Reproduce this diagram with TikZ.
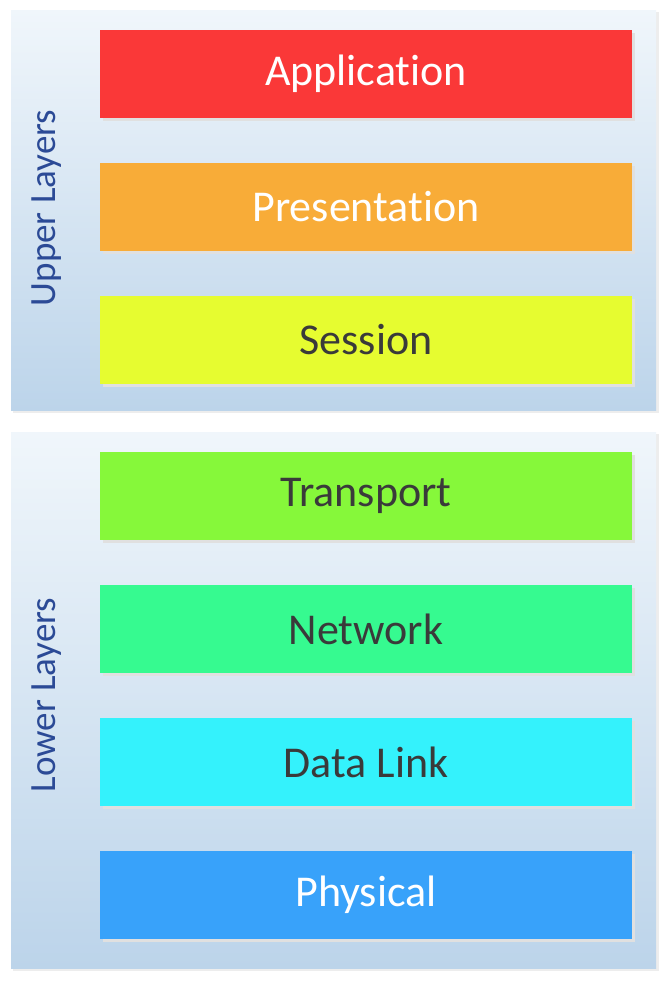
\documentclass[tikz,border=0pt]{standalone}
\usepackage{fontspec}
\setmainfont[Ligatures=NoCommon]{Carlito}
\usetikzlibrary{positioning}
\definecolor{panelTop}{HTML}{F0F6FB}
\definecolor{panelBot}{HTML}{BCD4EA}
\definecolor{sideText}{HTML}{2B4A96}
\definecolor{darkText}{HTML}{3A3A3A}
\definecolor{cApp}{HTML}{FA3838}
\definecolor{cPres}{HTML}{F8AC38}
\definecolor{cSess}{HTML}{E6FC30}
\definecolor{cTrans}{HTML}{86F83A}
\definecolor{cNet}{HTML}{36FA90}
\definecolor{cData}{HTML}{34F2FC}
\definecolor{cPhys}{HTML}{38A2FA}
\tikzset{
  panel/.style={top color=panelTop, bottom color=panelBot, draw=none},
  panelshadow/.style={fill=black!7, draw=none},
  layerbox/.style={draw=none, minimum width=532pt, minimum height=88pt, inner sep=0pt,
    font=\fontsize{44}{48}\selectfont},
  boxshadow/.style={fill=black!12, draw=none},
  sidelabel/.style={text=sideText, font=\fontsize{37}{40}\selectfont, rotate=90, inner sep=0pt}
}
\begin{document}
\begin{tikzpicture}[x=1pt,y=-1pt]
\useasboundingbox (0,0) rectangle (670,983);
\fill[white] (0,0) rectangle (670,983);
% panels
\fill[panelshadow] (13,12) rectangle (659,413);
\fill[panel] (11,10) rectangle (656,410);
\fill[panelshadow] (13,434) rectangle (659,971);
\fill[panel] (11,432) rectangle (656,968);
% box shadows
\foreach \y in {74,207,340,496,629,762,895} {
  \fill[boxshadow] (103,\y-41) rectangle (635,\y+47);
}
\node[layerbox, fill=cApp, text=white] (app) at (366,74) {Application};
\node[layerbox, fill=cPres, text=white] (pres) at (366,207) {Presentation};
\node[layerbox, fill=cSess, text=darkText] (sess) at (366,340) {Session};
\node[layerbox, fill=cTrans, text=darkText] (trans) at (366,496) {Transport};
\node[layerbox, fill=cNet, text=darkText] (net) at (366,629) {Network};
\node[layerbox, fill=cData, text=darkText] (data) at (366,762) {Data Link};
\node[layerbox, fill=cPhys, text=white] (phys) at (366,895) {Physical};
\node[sidelabel] (upper) at (47,208) {Upper Layers};
\node[sidelabel] (lower) at (47,695) {Lower Layers};
\end{tikzpicture}
\end{document}
